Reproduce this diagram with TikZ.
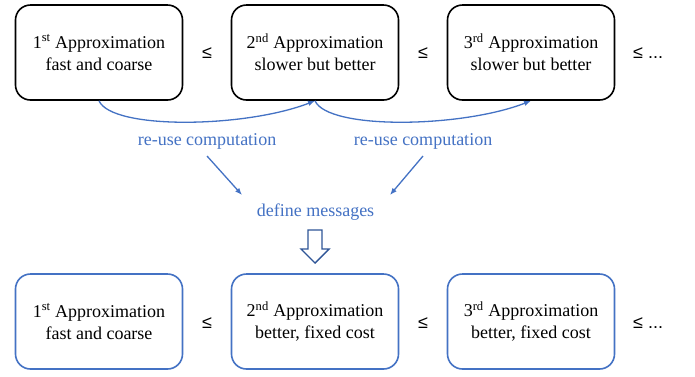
\documentclass[tikz,border=0pt]{standalone}
\usepackage{fontspec}
\setmainfont{Liberation Serif}
\newfontfamily\symfont{Liberation Sans}
\usetikzlibrary{arrows.meta}
\definecolor{ablue}{HTML}{4472C4}
\definecolor{dblue}{HTML}{2F5597}
\tikzset{
  apbox/.style={draw=black, line width=1.6pt, rounded corners=15pt, minimum width=167pt, minimum height=95pt, align=center, inner sep=0pt, font=\fontsize{18}{22}\selectfont},
  bluebox/.style={apbox, draw=ablue},
  leq/.style={font=\symfont\fontsize{18}{22}\selectfont, inner sep=0pt},
  btext/.style={text=ablue, font=\fontsize{18}{21}\selectfont, inner sep=1pt},
  conn/.style={draw=ablue, line width=1.3pt, -{Latex[length=7pt,width=5.5pt]}},
}
\begin{document}
\begin{tikzpicture}[x=1pt,y=-1pt]
\useasboundingbox[fill=white] (0,0) rectangle (695,376);
% top row
\node[apbox] (t1) at (99,52.5) {1\textsuperscript{st} Approximation\\fast and coarse};
\node[apbox] (t2) at (315,52.5) {2\textsuperscript{nd} Approximation\\slower but better};
\node[apbox] (t3) at (531,52.5) {3\textsuperscript{rd} Approximation\\slower but better};
\node[leq] (tl1) at (207,53) {≤};
\node[leq] (tl2) at (423,53) {≤};
\node[leq, anchor=west] (tl3) at (633,53) {≤ ...};
% curves
\draw[conn] (t1.south) .. controls (112,130) and (245,128) .. (t2.south);
\draw[conn] (t2.south) .. controls (328,130) and (461,128) .. (t3.south);
% labels
\node[btext] (r1) at (207,141) {re-use computation};
\node[btext] (r2) at (423,141) {re-use computation};
\node[btext] (dm) at (315.5,212) {define messages};
\coordinate (a1s) at (207,156);
\coordinate (a1e) at (242,195);
\coordinate (a2s) at (423,156);
\coordinate (a2e) at (390,195);
\draw[conn] (a1s) -- (a1e);
\draw[conn] (a2s) -- (a2e);
% hollow arrow
\draw[draw=dblue, line width=1.4pt, line join=miter]
  (308,230) -- (322,230) -- (322,249) -- (329,249) -- (315,263) -- (301,249) -- (308,249) -- cycle;
% bottom row
\node[bluebox] (b1) at (99,321.5) {1\textsuperscript{st} Approximation\\fast and coarse};
\node[bluebox] (b2) at (315,321.5) {2\textsuperscript{nd} Approximation\\better, fixed cost};
\node[bluebox] (b3) at (531,321.5) {3\textsuperscript{rd} Approximation\\better, fixed cost};
\node[leq] (bl1) at (207,323) {≤};
\node[leq] (bl2) at (423,323) {≤};
\node[leq, anchor=west] (bl3) at (633,323) {≤ ...};
\end{tikzpicture}
\end{document}
